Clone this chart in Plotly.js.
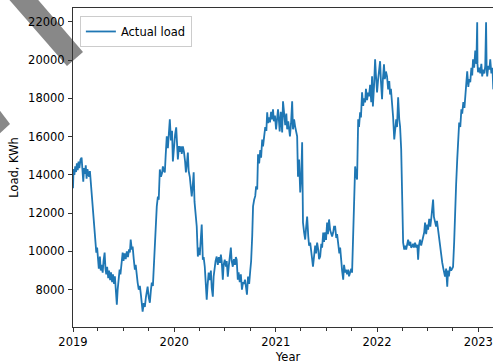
<!DOCTYPE html>
<html>
<head>
<meta charset="utf-8">
<script src="https://cdn.plot.ly/plotly-3.0.1.min.js"></script>
<style>
html,body{margin:0;padding:0;overflow:hidden;background:#fff;width:493px;height:364px;}
#chart{width:520px;height:380px;}
</style>
</head>
<body>
<div id="chart"></div>
<script>
// ---- data ----
const dates2019 = ["2019-01-01","2019-01-03","2019-01-06","2019-01-09","2019-01-12","2019-01-15","2019-01-18","2019-01-21","2019-01-24","2019-01-28","2019-02-01","2019-02-04","2019-02-07","2019-02-10","2019-02-13","2019-02-16","2019-02-19","2019-02-22","2019-02-25","2019-02-28","2019-03-03","2019-03-06","2019-03-10","2019-03-13","2019-03-16","2019-03-20","2019-03-23","2019-03-26","2019-03-29","2019-04-01","2019-04-04","2019-04-08","2019-04-11","2019-04-14","2019-04-18","2019-04-21","2019-04-25","2019-04-28","2019-05-01","2019-05-04","2019-05-08","2019-05-11","2019-05-15","2019-05-18","2019-05-22","2019-05-25","2019-05-29","2019-06-01","2019-06-04","2019-06-08","2019-06-11","2019-06-14","2019-06-18","2019-06-21","2019-06-25","2019-06-29","2019-07-02","2019-07-06","2019-07-10","2019-07-14","2019-07-18","2019-07-22","2019-07-25","2019-07-28","2019-08-01","2019-08-04","2019-08-08","2019-08-12","2019-08-15","2019-08-19","2019-08-22","2019-08-26","2019-08-30","2019-09-03","2019-09-06","2019-09-09","2019-09-13","2019-09-17","2019-09-21","2019-09-24","2019-09-27","2019-10-01","2019-10-05","2019-10-09","2019-10-12","2019-10-16","2019-10-20","2019-10-23","2019-10-27","2019-10-30","2019-11-03","2019-11-06","2019-11-10","2019-11-14","2019-11-18","2019-11-21","2019-11-25","2019-11-28","2019-12-01","2019-12-05","2019-12-09","2019-12-13","2019-12-16","2019-12-20","2019-12-24","2019-12-27","2019-12-31"];
const load2019 = [13300,14300,14000,14450,14150,14600,14250,14700,14350,14800,14900,14400,13650,14350,14050,14500,13800,14300,14100,13900,14200,13600,12900,12700,12000,11300,10500,9940,10200,9400,9100,9730,9000,9300,8890,9500,9940,9100,8800,9200,8600,9000,8500,8900,8400,8800,8300,8700,8200,7210,8000,8600,9050,8800,9400,9940,9500,9900,9600,10000,9700,10100,9940,10620,10100,10250,9600,9050,9300,8600,8370,8000,8200,7700,7320,6850,7300,7100,7630,7900,8160,7600,7320,8000,8370,8200,9500,10460,11200,12350,12870,12700,14280,13900,14100,14440,14200,14130,15000,16010,15400,16300,16900,15800,16300,14700,15600];

const dates2020 = ["2020-01-04","2020-01-08","2020-01-11","2020-01-14","2020-01-18","2020-01-21","2020-01-25","2020-01-28","2020-02-01","2020-02-05","2020-02-09","2020-02-12","2020-02-15","2020-02-19","2020-02-22","2020-02-26","2020-03-01","2020-03-04","2020-03-08","2020-03-11","2020-03-14","2020-03-18","2020-03-22","2020-03-26","2020-03-29","2020-04-02","2020-04-05","2020-04-09","2020-04-13","2020-04-16","2020-04-20","2020-04-23","2020-04-27","2020-04-30","2020-05-04","2020-05-08","2020-05-12","2020-05-15","2020-05-19","2020-05-22","2020-05-26","2020-05-29","2020-06-02","2020-06-06","2020-06-10","2020-06-14","2020-06-17","2020-06-20","2020-06-24","2020-06-27","2020-07-01","2020-07-05","2020-07-08","2020-07-12","2020-07-16","2020-07-19","2020-07-23","2020-07-26","2020-07-30","2020-08-03","2020-08-07","2020-08-10","2020-08-13","2020-08-17","2020-08-20","2020-08-24","2020-08-28","2020-09-01","2020-09-05","2020-09-08","2020-09-12","2020-09-16","2020-09-19","2020-09-23","2020-09-27","2020-10-01","2020-10-04","2020-10-08","2020-10-11","2020-10-15","2020-10-19","2020-10-22","2020-10-26","2020-10-29","2020-11-02","2020-11-06","2020-11-09","2020-11-13","2020-11-16","2020-11-20","2020-11-24","2020-11-28","2020-12-01","2020-12-04","2020-12-08","2020-12-11","2020-12-15","2020-12-18","2020-12-22","2020-12-25","2020-12-29"];
const load2020 = [16100,16480,15600,14810,15500,15200,15490,15100,15490,15200,14700,14130,14500,15170,14200,13900,13300,12870,13500,14130,12600,11800,11300,9730,10200,9800,10300,11400,9570,9700,9200,8500,7480,8200,8890,8500,9000,8100,7630,8700,9200,9500,9730,9300,9700,9400,9830,9500,8520,9300,9570,9200,9500,8680,9300,9600,10200,9500,9200,9600,9300,9700,9570,8520,8900,8400,8800,8000,8400,8300,8520,8100,7740,8680,8300,9000,9470,10800,12350,12700,12900,13400,13240,15070,14600,15300,14900,15850,15490,16000,16500,16300,17270,16700,17000,16740,17300,16900,17420,16800,17100];

const dates2021 = ["2021-01-02","2021-01-06","2021-01-09","2021-01-12","2021-01-15","2021-01-19","2021-01-22","2021-01-24","2021-01-27","2021-01-31","2021-02-04","2021-02-08","2021-02-11","2021-02-15","2021-02-18","2021-02-21","2021-02-25","2021-03-01","2021-03-04","2021-03-08","2021-03-12","2021-03-16","2021-03-19","2021-03-22","2021-03-26","2021-03-30","2021-04-03","2021-04-06","2021-04-09","2021-04-13","2021-04-17","2021-04-20","2021-04-24","2021-04-28","2021-05-01","2021-05-05","2021-05-08","2021-05-12","2021-05-15","2021-05-19","2021-05-23","2021-05-26","2021-05-30","2021-06-03","2021-06-06","2021-06-10","2021-06-14","2021-06-17","2021-06-21","2021-06-24","2021-06-28","2021-07-01","2021-07-05","2021-07-08","2021-07-12","2021-07-16","2021-07-19","2021-07-23","2021-07-27","2021-07-30","2021-08-03","2021-08-07","2021-08-10","2021-08-14","2021-08-18","2021-08-21","2021-08-24","2021-08-28","2021-09-01","2021-09-04","2021-09-08","2021-09-11","2021-09-15","2021-09-19","2021-09-22","2021-09-26","2021-09-30","2021-10-03","2021-10-07","2021-10-10","2021-10-14","2021-10-17","2021-10-21","2021-10-25","2021-10-28","2021-11-01","2021-11-04","2021-11-08","2021-11-12","2021-11-15","2021-11-19","2021-11-22","2021-11-26","2021-11-30","2021-12-03","2021-12-07","2021-12-11","2021-12-14","2021-12-17","2021-12-21","2021-12-25","2021-12-28"];
const load2021 = [16380,17060,17420,16900,16270,17300,16700,16220,17840,17000,16600,17200,16380,16800,16500,16010,16700,17840,16380,16900,16500,16200,16010,13900,14800,13080,14000,15700,11510,11000,10620,11200,11820,10800,10300,10460,9900,9600,9200,9800,10300,9900,10460,10100,9600,9730,10400,10200,10990,10500,11000,10600,11510,10900,11670,11100,10900,10780,11000,11300,11300,10700,10900,10250,9900,10200,9570,9000,8520,9300,8900,9050,8800,9050,8700,8890,9100,8890,11510,13000,14440,14000,13760,16900,16500,17270,17000,18310,17600,18000,17790,18500,17900,18300,18100,18700,17800,19150,17580,18600,20040,19200];

const dates2022 = ["2022-01-01","2022-01-05","2022-01-08","2022-01-12","2022-01-15","2022-01-19","2022-01-22","2022-01-26","2022-01-29","2022-02-02","2022-02-06","2022-02-10","2022-02-14","2022-02-17","2022-02-20","2022-02-24","2022-02-28","2022-03-04","2022-03-08","2022-03-11","2022-03-14","2022-03-18","2022-03-22","2022-03-25","2022-03-29","2022-04-01","2022-04-05","2022-04-09","2022-04-12","2022-04-16","2022-04-20","2022-04-23","2022-04-27","2022-05-01","2022-05-04","2022-05-07","2022-05-11","2022-05-14","2022-05-18","2022-05-22","2022-05-26","2022-05-29","2022-06-01","2022-06-05","2022-06-09","2022-06-12","2022-06-16","2022-06-20","2022-06-23","2022-06-27","2022-07-01","2022-07-04","2022-07-08","2022-07-12","2022-07-16","2022-07-19","2022-07-22","2022-07-25","2022-07-29","2022-08-02","2022-08-05","2022-08-09","2022-08-13","2022-08-16","2022-08-20","2022-08-24","2022-08-28","2022-09-01","2022-09-03","2022-09-07","2022-09-11","2022-09-14","2022-09-17","2022-09-21","2022-09-25","2022-09-29","2022-10-02","2022-10-06","2022-10-09","2022-10-13","2022-10-17","2022-10-20","2022-10-24","2022-10-28","2022-11-01","2022-11-04","2022-11-08","2022-11-12","2022-11-15","2022-11-19","2022-11-22","2022-11-26","2022-11-29","2022-12-03","2022-12-07","2022-12-10","2022-12-13","2022-12-17","2022-12-21","2022-12-25","2022-12-28","2022-12-29","2022-12-31"];
const load2022 = [18310,19000,19500,19940,18900,17950,19000,19780,19000,19400,19150,18470,18900,18200,18500,17790,17000,15850,16400,16900,16500,18050,16900,16530,15330,12870,10460,10100,10300,10100,10400,10620,10300,10500,10200,10250,10400,10200,10460,10200,10350,9570,10300,10620,10300,10500,10620,11000,11510,10900,11400,11140,11700,11300,11800,12190,12710,11800,11510,11300,11600,11140,10600,10100,9900,9410,9100,8900,8680,9100,8160,9000,8700,9200,9000,9100,9200,10500,12190,13500,14810,15800,16740,16500,17420,17200,17800,17500,18100,18500,19410,18600,19000,18840,19600,19200,20040,19600,20500,19800,21980,19800,19360];

const dates2023 = ["2023-01-04","2023-01-08","2023-01-12","2023-01-15","2023-01-19","2023-01-23","2023-01-26","2023-01-29","2023-01-31","2023-02-02","2023-02-06","2023-02-10","2023-02-13","2023-02-17","2023-02-21","2023-02-24","2023-02-28","2023-03-04","2023-03-08","2023-03-12","2023-03-16","2023-03-20","2023-03-24","2023-03-28","2023-03-31"];
const load2023 = [19600,19300,19800,19150,19500,19300,19700,21980,19600,19150,19700,19500,20040,19300,19600,18470,19200,19400,18900,19300,19000,19200,18800,19100,18900];

const seriesName = "Actual load";
const xTitle = "Year";
const yTitle = "Load, KWh";

const dates = [].concat(dates2019, dates2020, dates2021, dates2022, dates2023);
const load = [].concat(load2019, load2020, load2021, load2022, load2023);

// ---- chart ----
const W = 520, H = 380, L = 73, R = 17, T = 8, B = 53;
const pw = W - L - R, ph = H - T - B;
const px = v => (v - L) / pw;      // pixel -> paper (decoration only)
const py = v => (H - B - v) / ph;

function poly(pts){
  return 'M' + pts.map(p => px(p[0]).toFixed(4) + ',' + py(p[1]).toFixed(4)).join(' L') + ' Z';
}

const font = {family: "DejaVu Sans, sans-serif", size: 11.5, color: "#000"};

const trace = {
  x: dates, y: load, type: 'scatter', mode: 'lines', name: seriesName,
  line: {color: '#1f77b4', width: 1.8}
};

const layout = {
  width: W, height: H,
  margin: {l: L, r: R, t: T, b: B, pad: 0},
  paper_bgcolor: '#fff', plot_bgcolor: '#fff',
  font: font,
  showlegend: true,
  legend: {
    x: 0.016, y: 0.975, xanchor: 'left', yanchor: 'top',
    bgcolor: 'rgba(255,255,255,0.8)', bordercolor: '#cccccc', borderwidth: 1,
    font: font, tracegroupgap: 0
  },
  xaxis: {
    type: 'date', range: ['2019-01-01', '2023-03-31'],
    tick0: '2019-01-01', dtick: 'M12', tickformat: '%Y',
    ticks: 'outside', ticklen: 4, tickwidth: 1, tickcolor: '#333',
    minor: {dtick: 'M3', tick0: '2019-01-01', ticks: 'outside', ticklen: 2.5, tickwidth: 1, tickcolor: '#333', showgrid: false},
    showgrid: false, zeroline: false,
    showline: true, linecolor: '#333', linewidth: 1, mirror: true,
    tickfont: font,
    title: {text: xTitle, font: font, standoff: 5}
  },
  yaxis: {
    range: [6050, 22720], tickformat: 'd', dtick: 2000, tick0: 0,
    ticks: 'outside', ticklen: 4, tickwidth: 1, tickcolor: '#333',
    showgrid: false, zeroline: false,
    showline: true, linecolor: '#333', linewidth: 1, mirror: true,
    tickfont: font, ticklabelstandoff: 1,
    title: {text: yTitle, font: font, standoff: 7}
  },
  shapes: [
    {type: 'path', xref: 'paper', yref: 'paper', layer: 'below', line: {width: 0}, fillcolor: '#888888',
     path: poly([[-8,-20],[21,-20],[83,52],[67,66]])},
    {type: 'path', xref: 'paper', yref: 'paper', layer: 'below', line: {width: 0}, fillcolor: '#888888',
     path: poly([[-5,104],[10,124],[-5,138]])}
  ]
};

Plotly.newPlot('chart', [trace], layout, {staticPlot: true, displayModeBar: false});
</script>
</body>
</html>
